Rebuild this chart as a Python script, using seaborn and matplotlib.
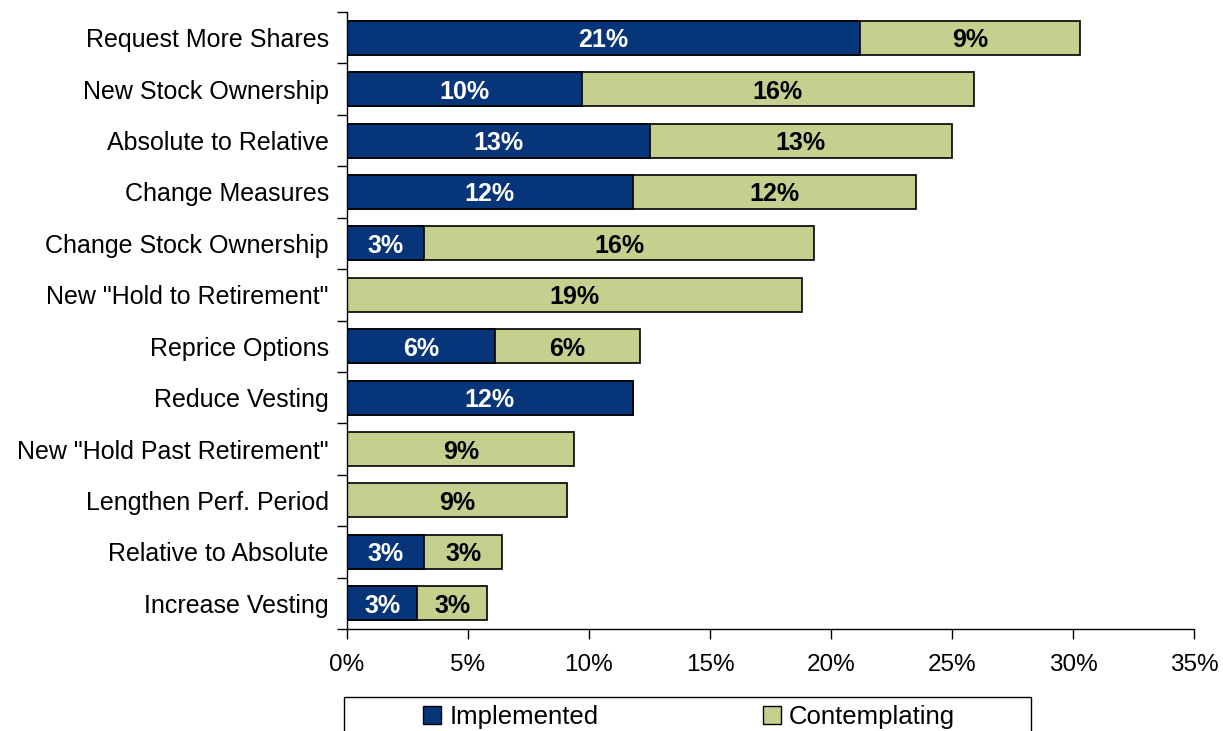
import matplotlib
matplotlib.use("Agg")
import matplotlib.pyplot as plt
from matplotlib.patches import Patch, Rectangle
from matplotlib.ticker import FixedLocator, PercentFormatter
import pandas as pd
import seaborn as sns

# Share of companies making each change (percent)
categories = [
    "Request More Shares",
    "New Stock Ownership",
    "Absolute to Relative",
    "Change Measures",
    "Change Stock Ownership",
    'New "Hold to Retirement"',
    "Reprice Options",
    "Reduce Vesting",
    'New "Hold Past Retirement"',
    "Lengthen Perf. Period",
    "Relative to Absolute",
    "Increase Vesting",
]
implemented = [21.2, 9.7, 12.5, 11.8, 3.2, 0.0, 6.1, 11.8, 0.0, 0.0, 3.2, 2.9]
contemplating = [9.1, 16.2, 12.5, 11.7, 16.1, 18.8, 6.0, 0.0, 9.4, 9.1, 3.2, 2.9]
series_names = ["Implemented", "Contemplating"]
x_ticks = [0, 5, 10, 15, 20, 25, 30, 35]

NAVY = "#06357A"
GREEN = "#C5D08F"


def pct_label(v):
    # round half up, e.g. 12.5 -> "13%"
    return f"{int(v + 0.5)}%"


df = pd.DataFrame({
    "category": categories,
    "implemented": implemented,
    "contemplating": contemplating,
})
df["total"] = df["implemented"] + df["contemplating"]

sns.set_style("white")
plt.rcParams["font.family"] = ["Liberation Sans", "DejaVu Sans"]
plt.rcParams["text.color"] = "black"
plt.rcParams["xtick.labelcolor"] = "black"
plt.rcParams["ytick.labelcolor"] = "black"

fig = plt.figure(figsize=(12.23, 7.31), dpi=100)
ax = fig.add_axes([347 / 1223, 1 - 629 / 731, (1194 - 347) / 1223, (629 - 12) / 731])

# Stacked bars: full total in green, implemented part overlaid in navy
sns.barplot(data=df, x="total", y="category", orient="h", color=GREEN,
            edgecolor="black", linewidth=1.2, width=0.66, saturation=1, ax=ax)
sns.barplot(data=df, x="implemented", y="category", orient="h", color=NAVY,
            edgecolor="black", linewidth=1.2, width=0.66, saturation=1, ax=ax)

# Segment labels
for i, row in df.iterrows():
    if row["implemented"] > 0:
        ax.text(row["implemented"] / 2, i, pct_label(row["implemented"]),
                ha="center", va="center_baseline", color="white",
                fontsize=18, fontweight="bold")
    if row["contemplating"] > 0:
        ax.text(row["implemented"] + row["contemplating"] / 2, i,
                pct_label(row["contemplating"]), ha="center", va="center_baseline",
                color="black", fontsize=18, fontweight="bold")

ax.set_xlim(0, 35)
ax.set_ylim(len(categories) - 0.5, -0.5)
ax.set_xlabel("")
ax.set_ylabel("")

ax.xaxis.set_major_locator(FixedLocator(x_ticks))
ax.xaxis.set_major_formatter(PercentFormatter(decimals=0))
ax.tick_params(axis="x", which="major", direction="out", length=7, width=1,
               color="black", labelsize=17.5, pad=11, bottom=True)

# Category labels centred on bars, tick marks on the slot boundaries
ax.tick_params(axis="y", which="major", length=0, labelsize=18, pad=13, left=True)
ax.yaxis.set_minor_locator(FixedLocator([k - 0.5 for k in range(len(categories) + 1)]))
ax.tick_params(axis="y", which="minor", direction="out", length=7, width=1,
               color="black", left=True)

for side in ("top", "right"):
    ax.spines[side].set_visible(False)
for side in ("left", "bottom"):
    ax.spines[side].set_color("black")
    ax.spines[side].set_linewidth(1)

# Legend box along the bottom edge
fig.patches.append(Rectangle((344 / 1223, -0.05), (1031 - 344) / 1223,
                             (731 - 697) / 731 + 0.05, transform=fig.transFigure,
                             facecolor="white", edgecolor="black", linewidth=1,
                             clip_on=False))
handles = [Patch(facecolor=NAVY, edgecolor="black", linewidth=1),
           Patch(facecolor=GREEN, edgecolor="black", linewidth=1)]
fig.legend(handles, series_names, loc="center", bbox_to_anchor=(689 / 1223, 1 - 717 / 731),
           ncol=2, frameon=False, fontsize=18.5, handlelength=0.7, handleheight=0.7,
           handletextpad=0.3, columnspacing=6.4, borderpad=0)

fig.savefig("out.png", dpi=100)
